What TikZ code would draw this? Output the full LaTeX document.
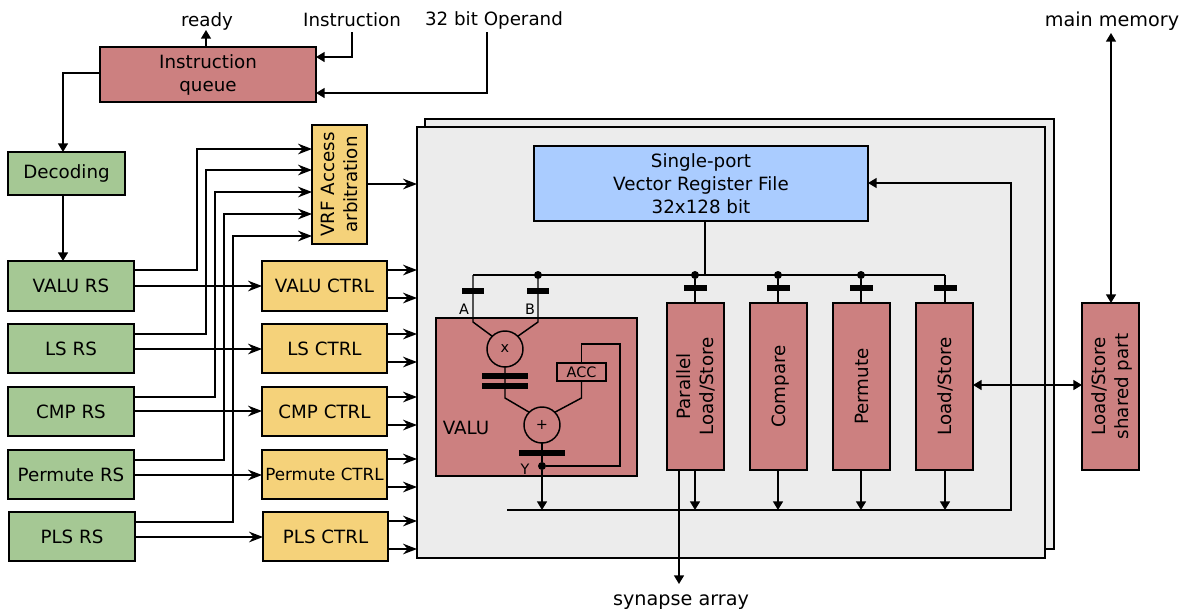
\documentclass[tikz,border=0pt]{standalone}
\usepackage{fontspec}
\setmainfont{DejaVu Sans}
\usetikzlibrary{arrows.meta}
\definecolor{redbox}{HTML}{CC8080}
\definecolor{greenbox}{HTML}{A5C894}
\definecolor{yellowbox}{HTML}{F5D27A}
\definecolor{bluebox}{HTML}{AACCFF}
\definecolor{panel}{HTML}{ECECEC}
\newcommand{\bx}[7]{\node[boxbase,#2,minimum width={(#5-#3)*0.75pt},minimum height={(#6-#4)*0.75pt}] (#1) at ({(#3+#5)/2},{(#4+#6)/2}) {#7};}
\newcommand{\rtext}[1]{\hspace*{3pt}\rotatebox{90}{\begin{tabular}{@{}c@{}}#1\end{tabular}}}
\newcommand{\barnode}[4]{\node[barbase,minimum width={#4*0.75pt}] (#1) at (#2,#3) {};}
\newcommand{\dotnode}[3]{\node[dotbase] (#1) at (#2,#3) {};}
\tikzset{
  boxbase/.style={draw=black,line width=1.5pt,rectangle,inner sep=0pt,outer sep=0pt,align=center,font=\mainfs},
  redb/.style={fill=redbox}, greenb/.style={fill=greenbox}, yellowb/.style={fill=yellowbox},
  blueb/.style={fill=bluebox}, panelb/.style={fill=panel},
  barbase/.style={fill=black,rectangle,inner sep=0pt,outer sep=0pt,minimum height=4.5pt},
  dotbase/.style={fill=black,circle,inner sep=0pt,outer sep=0pt,minimum size=6pt},
  lbl/.style={inner sep=0pt,font=\mainfs},
  lblbig/.style={inner sep=0pt,font=\fontsize{14.4}{17.2}\selectfont},
  small/.style={inner sep=0pt,font=\smallfs},
  oper/.style={draw=black,line width=1.1pt,circle,inner sep=0pt,outer sep=0pt,minimum size=27pt,font=\smallfs},
  wire/.style={draw=black,line width=1.1pt},
  arr/.style={wire,-{Stealth[length=10.5pt,width=8pt,inset=3.5pt]}},
  arrs/.style={wire,-{Triangle[length=6.5pt,width=7.5pt]}},
  arrd/.style={wire,{Triangle[length=6.5pt,width=7.5pt]}-{Triangle[length=6.5pt,width=7.5pt]}},
}
\newcommand{\mainfs}{\fontsize{13.7}{17.2}\selectfont}
\newcommand{\smallfs}{\fontsize{10.8}{12}\selectfont}
\begin{document}
\begin{tikzpicture}[x=0.75pt,y=-0.75pt]
\useasboundingbox (0,0) rectangle (1183,612);
\fill[white] (0,0) rectangle (1183,612);
% labels
\node[lbl] (ready) at (207,21) {ready};
\node[lbl] (instr) at (352,20) {Instruction};
\node[lbl] (oper) at (494,20) {32 bit Operand};
\node[lblbig] (mem) at (1112,21.5) {main memory};
\node[lblbig] (syn) at (681,602) {synapse array};
\coordinate (instrb) at (352,32);
\coordinate (operb) at (487,32);
\coordinate (memb) at (1111,33);
\coordinate (readyb) at (206,30);
\coordinate (synb) at (679,584);
% panels
\bx{back}{panelb}{425}{119}{1054}{549}{}
\bx{panel}{panelb}{417}{127}{1045}{558}{}
% left boxes
\bx{queue}{redb}{100}{47}{316}{102}{Instruction\\queue}
\bx{dec}{greenb}{8}{152}{125}{195}{Decoding}
\bx{vrs}{greenb}{8}{261}{134}{311}{VALU RS}
\bx{lrs}{greenb}{8}{324}{134}{373}{LS RS}
\bx{crs}{greenb}{8}{387}{134}{436}{CMP RS}
\bx{prs}{greenb}{8}{450}{134}{499}{Permute RS}
\bx{srs}{greenb}{9}{512}{135}{561}{PLS RS}
\bx{vct}{yellowb}{262}{261}{387}{311}{VALU CTRL}
\bx{lct}{yellowb}{262}{324}{387}{373}{LS CTRL}
\bx{cct}{yellowb}{262}{387}{387}{436}{CMP CTRL}
\bx{pct}{yellowb,font=\fontsize{12.55}{14}\selectfont}{262}{450}{387}{499}{Permute CTRL}
\bx{sct}{yellowb}{263}{512}{388}{561}{PLS CTRL}
\bx{arb}{yellowb}{312}{125}{367}{244}{\rtext{VRF Access\\arbitration}}
% panel contents
\bx{vrf}{blueb}{534}{146}{868}{221}{Single-port\\Vector Register File\\32x128 bit}
\bx{valu}{redb}{436}{318}{637}{476}{}
\bx{pls}{redb}{667}{303}{724}{470}{\rtext{Parallel\\Load/Store}}
\bx{cmp}{redb}{750}{303}{807}{470}{\rtext{Compare}}
\bx{per}{redb}{833}{303}{890}{470}{\rtext{Permute}}
\bx{lds}{redb}{916}{303}{973}{470}{\rtext{Load/Store}}
\bx{shr}{redb}{1082}{303}{1139}{470}{\rtext{Load/Store\\shared part}}
\node[lbl] (valut) at (466,428) {VALU};
\node[small] (la) at (464,309) {A};
\node[small] (lb) at (530,309) {B};
\node[small] (ly) at (525,469) {Y};
\node[oper] (mul) at (505,349) {x};
\node[oper] (add) at (542,425) {+};
\node[draw=black,line width=1.1pt,rectangle,inner sep=0pt,outer sep=0pt,minimum width=36.5pt,minimum height=13.5pt,font=\smallfs] (acc) at (581.5,372) {ACC};
% bars
\barnode{ba}{473}{291}{22}
\barnode{bb}{538}{291}{22}
\barnode{bm1}{505}{376}{46}
\barnode{bm2}{505}{386}{46}
\barnode{by}{542}{453}{46}
\barnode{b1}{695}{288}{23}
\barnode{b2}{778}{288}{23}
\barnode{b3}{861}{288}{23}
\barnode{b4}{945}{288}{23}
% dots
\dotnode{dbb}{538}{275}
\dotnode{d1}{695}{275}
\dotnode{d2}{778}{275}
\dotnode{d3}{861}{275}
\dotnode{dy}{542}{466}
\coordinate (busa) at (473,275);
\coordinate (bus4) at (945,275);
\coordinate (busv) at (705,275);
\coordinate (bbl) at (507,510);
\coordinate (bbr) at (1011,510);
% top connectors
\draw[arrs] (queue.north -| readyb) -- (readyb);
\draw[arrs] (instrb) |- (queue.east |- 0,57);
\draw[arrs] (operb) |- (queue.east |- 0,93);
\draw[arrs] (queue.west |- 0,73) -| (dec.north -| 63,0);
\draw[arrs] (dec.south -| 63,0) -- (vrs.north -| 63,0);
% RS to arbitration
\draw[arr] (vrs.east |- 0,270) -| (197,149) -- (arb.west |- 0,149);
\draw[arr] (lrs.east |- 0,334) -| (206,170) -- (arb.west |- 0,170);
\draw[arr] (crs.east |- 0,397) -| (215,192) -- (arb.west |- 0,192);
\draw[arr] (prs.east |- 0,460) -| (224,214) -- (arb.west |- 0,214);
\draw[arr] (srs.east |- 0,522) -| (233,236) -- (arb.west |- 0,236);
\draw[arr] (arb.east |- 0,184) -- (panel.west |- 0,184);
% RS to CTRL
\draw[arr] (vrs.east |- 0,286) -- (vct.west |- 0,286);
\draw[arr] (lrs.east |- 0,349) -- (lct.west |- 0,349);
\draw[arr] (crs.east |- 0,411) -- (cct.west |- 0,411);
\draw[arr] (prs.east |- 0,475) -- (pct.west |- 0,475);
\draw[arr] (srs.east |- 0,537) -- (sct.west |- 0,537);
% CTRL to panel
\draw[arr] (vct.east |- 0,270) -- (panel.west |- 0,270);
\draw[arr] (vct.east |- 0,298) -- (panel.west |- 0,298);
\draw[arr] (lct.east |- 0,334) -- (panel.west |- 0,334);
\draw[arr] (lct.east |- 0,362) -- (panel.west |- 0,362);
\draw[arr] (cct.east |- 0,397) -- (panel.west |- 0,397);
\draw[arr] (cct.east |- 0,425) -- (panel.west |- 0,425);
\draw[arr] (pct.east |- 0,459) -- (panel.west |- 0,459);
\draw[arr] (pct.east |- 0,487) -- (panel.west |- 0,487);
\draw[arr] (sct.east |- 0,521) -- (panel.west |- 0,521);
\draw[arr] (sct.east |- 0,549) -- (panel.west |- 0,549);
% bus
\draw[wire] (busa) -- (bus4);
\draw[wire] (vrf.south -| busv) -- (busv);
\draw[wire] (d1) -- (pls.north -| d1);
\draw[wire] (d2) -- (cmp.north -| d2);
\draw[wire] (d3) -- (per.north -| d3);
\draw[wire] (bus4) -- (lds.north -| bus4);
% VALU internals
\draw[wire] (busa) -- (473,322) -- (mul.135);
\draw[wire] (dbb) -- (538,322) -- (mul.45);
\draw[wire] (mul.south) -- (505,398) -- (add.135);
\draw[wire] (acc.south) -- (581.5,398) -- (add.45);
\draw[wire] (add.south) -- (dy);
\draw[wire] (dy) -| (620,344) -| (acc.north);
\draw[arrs] (dy) -- (dy |- bbl);
% lower bus
\draw[arrs] (bbl) -- (bbr) |- (vrf.east |- 0,183);
\draw[arrs] (pls.south -| d1) -- (d1 |- bbl);
\draw[arrs] (cmp.south -| d2) -- (d2 |- bbl);
\draw[arrs] (per.south -| d3) -- (d3 |- bbl);
\draw[arrs] (lds.south -| bus4) -- (bus4 |- bbl);
\draw[arrs] (pls.south -| synb) -- (synb);
\draw[arrd] (lds.east |- 0,385) -- (shr.west |- 0,385);
\draw[arrd] (shr.north -| memb) -- (memb);
\end{tikzpicture}
\end{document}
